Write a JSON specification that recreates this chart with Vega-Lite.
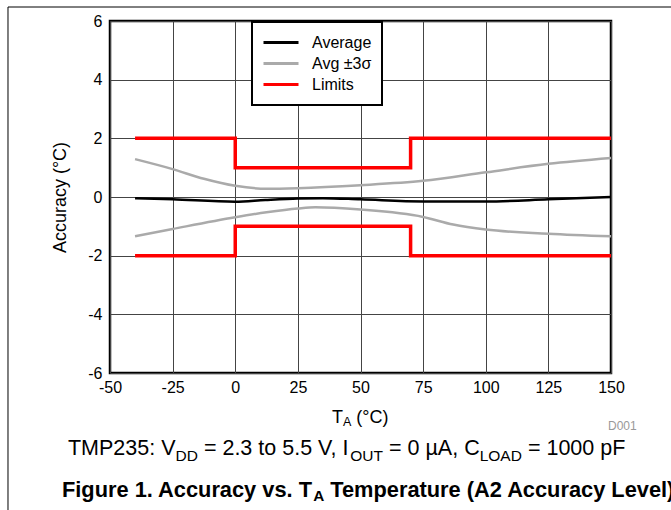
{
  "$schema": "https://vega.github.io/schema/vega-lite/v6.json",
  "width": 501,
  "height": 352,
  "autosize": {"type": "none"},
  "padding": {"left": 110, "top": 21, "right": 60, "bottom": 137},
  "background": "white",
  "config": {
    "font": "Liberation Sans",
    "view": {"stroke": "black", "strokeWidth": 2.5},
    "legend": {"strokeWidth": 2}
  },
  "datasets": {
    "curves": [
      {"s": "Average", "k": "avg", "t": -40, "v": -0.04},
      {"s": "Average", "k": "avg", "t": -25, "v": -0.08},
      {"s": "Average", "k": "avg", "t": 0, "v": -0.16},
      {"s": "Average", "k": "avg", "t": 12, "v": -0.1},
      {"s": "Average", "k": "avg", "t": 25, "v": -0.05},
      {"s": "Average", "k": "avg", "t": 35, "v": -0.04},
      {"s": "Average", "k": "avg", "t": 50, "v": -0.08},
      {"s": "Average", "k": "avg", "t": 75, "v": -0.15},
      {"s": "Average", "k": "avg", "t": 100, "v": -0.15},
      {"s": "Average", "k": "avg", "t": 125, "v": -0.08},
      {"s": "Average", "k": "avg", "t": 150, "v": 0.0},
      {"s": "Avg ±3σ", "k": "up", "t": -40, "v": 1.29},
      {"s": "Avg ±3σ", "k": "up", "t": -25, "v": 0.95},
      {"s": "Avg ±3σ", "k": "up", "t": -12.5, "v": 0.62},
      {"s": "Avg ±3σ", "k": "up", "t": 0, "v": 0.38},
      {"s": "Avg ±3σ", "k": "up", "t": 12.5, "v": 0.28},
      {"s": "Avg ±3σ", "k": "up", "t": 25, "v": 0.3},
      {"s": "Avg ±3σ", "k": "up", "t": 50, "v": 0.4},
      {"s": "Avg ±3σ", "k": "up", "t": 75, "v": 0.55},
      {"s": "Avg ±3σ", "k": "up", "t": 100, "v": 0.84},
      {"s": "Avg ±3σ", "k": "up", "t": 125, "v": 1.13},
      {"s": "Avg ±3σ", "k": "up", "t": 150, "v": 1.33},
      {"s": "Avg ±3σ", "k": "lo", "t": -40, "v": -1.34},
      {"s": "Avg ±3σ", "k": "lo", "t": -25, "v": -1.09},
      {"s": "Avg ±3σ", "k": "lo", "t": 0, "v": -0.69},
      {"s": "Avg ±3σ", "k": "lo", "t": 12.5, "v": -0.52},
      {"s": "Avg ±3σ", "k": "lo", "t": 25, "v": -0.39},
      {"s": "Avg ±3σ", "k": "lo", "t": 32, "v": -0.35},
      {"s": "Avg ±3σ", "k": "lo", "t": 50, "v": -0.43},
      {"s": "Avg ±3σ", "k": "lo", "t": 75, "v": -0.68},
      {"s": "Avg ±3σ", "k": "lo", "t": 87, "v": -0.94},
      {"s": "Avg ±3σ", "k": "lo", "t": 100, "v": -1.11},
      {"s": "Avg ±3σ", "k": "lo", "t": 125, "v": -1.25},
      {"s": "Avg ±3σ", "k": "lo", "t": 150, "v": -1.34}
    ],
    "limits": [
      {"s": "Limits", "k": "hi", "t": -40, "v": 2},
      {"s": "Limits", "k": "hi", "t": 0, "v": 1},
      {"s": "Limits", "k": "hi", "t": 70, "v": 2},
      {"s": "Limits", "k": "hi", "t": 150, "v": 2},
      {"s": "Limits", "k": "lo", "t": -40, "v": -2},
      {"s": "Limits", "k": "lo", "t": 0, "v": -1},
      {"s": "Limits", "k": "lo", "t": 70, "v": -2},
      {"s": "Limits", "k": "lo", "t": 150, "v": -2}
    ]
  },
  "layer": [
    {
      "data": {"name": "curves"},
      "mark": {"type": "line", "interpolate": "monotone", "strokeWidth": 2.5},
      "encoding": {
        "x": {
          "field": "t",
          "type": "quantitative",
          "scale": {"domain": [-50, 150], "nice": false, "zero": false},
          "axis": {
            "values": [-50, -25, 0, 25, 50, 75, 100, 125, 150],
            "labelExpr": "replace(datum.label, '−', '-')",
            "title": null,
            "ticks": false,
            "domain": false,
            "grid": true,
            "gridColor": "#444444",
            "gridOpacity": 1,
            "gridWidth": 1,
            "labelFontSize": 16,
            "labelColor": "black",
            "labelPadding": 6,
            "labelFlush": false
          }
        },
        "y": {
          "field": "v",
          "type": "quantitative",
          "scale": {"domain": [-6, 6], "nice": false, "zero": false},
          "axis": {
            "values": [-6, -4, -2, 0, 2, 4, 6],
            "labelExpr": "replace(datum.label, '−', '-')",
            "title": "Accuracy (°C)",
            "titleFontSize": 18,
            "titleFontWeight": "normal",
            "titleColor": "black",
            "titlePadding": 18,
            "ticks": false,
            "domain": false,
            "grid": true,
            "gridColor": "#444444",
            "gridOpacity": 1,
            "gridWidth": 1,
            "labelFontSize": 16,
            "labelColor": "black",
            "labelPadding": 8,
            "labelFlush": false
          }
        },
        "color": {
          "field": "s",
          "type": "nominal",
          "scale": {
            "domain": ["Average", "Avg ±3σ", "Limits"],
            "range": ["#000000", "#aaaaaa", "#ff0000"]
          },
          "legend": {
            "title": null,
            "orient": "none",
            "legendX": 142,
            "legendY": 1,
            "padding": 10,
            "strokeColor": "black",
            "fillColor": "white",
            "symbolType": "stroke",
            "symbolSize": 1225,
            "symbolStrokeWidth": 3,
            "clipHeight": 21,
            "rowPadding": 0,
            "labelFontSize": 16,
            "labelColor": "black",
            "labelOffset": 12
          }
        },
        "detail": {"field": "k"}
      }
    },
    {
      "data": {"name": "limits"},
      "mark": {"type": "line", "interpolate": "step-after", "strokeWidth": 3.5},
      "encoding": {
        "x": {"field": "t", "type": "quantitative"},
        "y": {"field": "v", "type": "quantitative"},
        "color": {"field": "s", "type": "nominal"},
        "detail": {"field": "k"}
      }
    },
    {
      "data": {"values": [{}]},
      "mark": {"type": "rect", "filled": false, "stroke": "black", "strokeWidth": 1},
      "encoding": {
        "x": {"datum": -90.72, "type": "quantitative"},
        "x2": {"datum": 177.5},
        "y": {"datum": 6.477, "type": "quantitative"},
        "y2": {"datum": -11.01}
      }
    },
    {
      "data": {"values": [{}]},
      "mark": {"type": "text", "text": "T", "align": "left", "baseline": "alphabetic", "fontSize": 18, "color": "black"},
      "encoding": {"x": {"datum": 38.62, "type": "quantitative"}, "y": {"datum": -7.705, "type": "quantitative"}}
    },
    {
      "data": {"values": [{}]},
      "mark": {"type": "text", "text": "A", "align": "left", "baseline": "alphabetic", "fontSize": 12.5, "color": "black"},
      "encoding": {"x": {"datum": 43.01, "type": "quantitative"}, "y": {"datum": -7.807, "type": "quantitative"}}
    },
    {
      "data": {"values": [{}]},
      "mark": {"type": "text", "text": "(°C)", "align": "left", "baseline": "alphabetic", "fontSize": 18, "color": "black"},
      "encoding": {"x": {"datum": 48.32, "type": "quantitative"}, "y": {"datum": -7.705, "type": "quantitative"}}
    },
    {
      "data": {"values": [{}]},
      "mark": {"type": "text", "text": "D001", "align": "left", "baseline": "alphabetic", "fontSize": 12, "color": "#999999"},
      "encoding": {"x": {"datum": 148.8, "type": "quantitative"}, "y": {"datum": -7.943, "type": "quantitative"}}
    },
    {
      "data": {"values": [{}]},
      "mark": {"type": "text", "text": "TMP235: V", "align": "left", "baseline": "alphabetic", "fontSize": 21.5, "color": "black"},
      "encoding": {"x": {"datum": -66.77, "type": "quantitative"}, "y": {"datum": -8.796, "type": "quantitative"}}
    },
    {
      "data": {"values": [{}]},
      "mark": {"type": "text", "text": "DD", "align": "left", "baseline": "alphabetic", "fontSize": 15.5, "color": "black"},
      "encoding": {"x": {"datum": -23.85, "type": "quantitative"}, "y": {"datum": -8.983, "type": "quantitative"}}
    },
    {
      "data": {"values": [{}]},
      "mark": {"type": "text", "text": "= 2.3 to 5.5 V, I", "align": "left", "baseline": "alphabetic", "fontSize": 21.5, "color": "black"},
      "encoding": {"x": {"datum": -12.51, "type": "quantitative"}, "y": {"datum": -8.796, "type": "quantitative"}}
    },
    {
      "data": {"values": [{}]},
      "mark": {"type": "text", "text": "OUT", "align": "left", "baseline": "alphabetic", "fontSize": 15.5, "color": "black"},
      "encoding": {"x": {"datum": 45.93, "type": "quantitative"}, "y": {"datum": -8.983, "type": "quantitative"}}
    },
    {
      "data": {"values": [{}]},
      "mark": {"type": "text", "text": "= 0 µA, C", "align": "left", "baseline": "alphabetic", "fontSize": 21.5, "color": "black"},
      "encoding": {"x": {"datum": 61.38, "type": "quantitative"}, "y": {"datum": -8.796, "type": "quantitative"}}
    },
    {
      "data": {"values": [{}]},
      "mark": {"type": "text", "text": "LOAD", "align": "left", "baseline": "alphabetic", "fontSize": 15.5, "color": "black"},
      "encoding": {"x": {"datum": 97.58, "type": "quantitative"}, "y": {"datum": -8.983, "type": "quantitative"}}
    },
    {
      "data": {"values": [{}]},
      "mark": {"type": "text", "text": "= 1000 pF", "align": "left", "baseline": "alphabetic", "fontSize": 21.5, "color": "black"},
      "encoding": {"x": {"datum": 116.83, "type": "quantitative"}, "y": {"datum": -8.796, "type": "quantitative"}}
    },
    {
      "data": {"values": [{}]},
      "mark": {"type": "text", "text": "Figure 1. Accuracy vs. T", "align": "left", "baseline": "alphabetic", "fontSize": 21.8, "fontWeight": "bold", "color": "black"},
      "encoding": {"x": {"datum": -69.16, "type": "quantitative"}, "y": {"datum": -10.217, "type": "quantitative"}}
    },
    {
      "data": {"values": [{}]},
      "mark": {"type": "text", "text": "A", "align": "left", "baseline": "alphabetic", "fontSize": 15.3, "fontWeight": "bold", "color": "black"},
      "encoding": {"x": {"datum": 31.12, "type": "quantitative"}, "y": {"datum": -10.347, "type": "quantitative"}}
    },
    {
      "data": {"values": [{}]},
      "mark": {"type": "text", "text": "Temperature (A2 Accuracy Level)", "align": "left", "baseline": "alphabetic", "fontSize": 21.8, "fontWeight": "bold", "color": "black"},
      "encoding": {"x": {"datum": 37.94, "type": "quantitative"}, "y": {"datum": -10.217, "type": "quantitative"}}
    }
  ]
}
